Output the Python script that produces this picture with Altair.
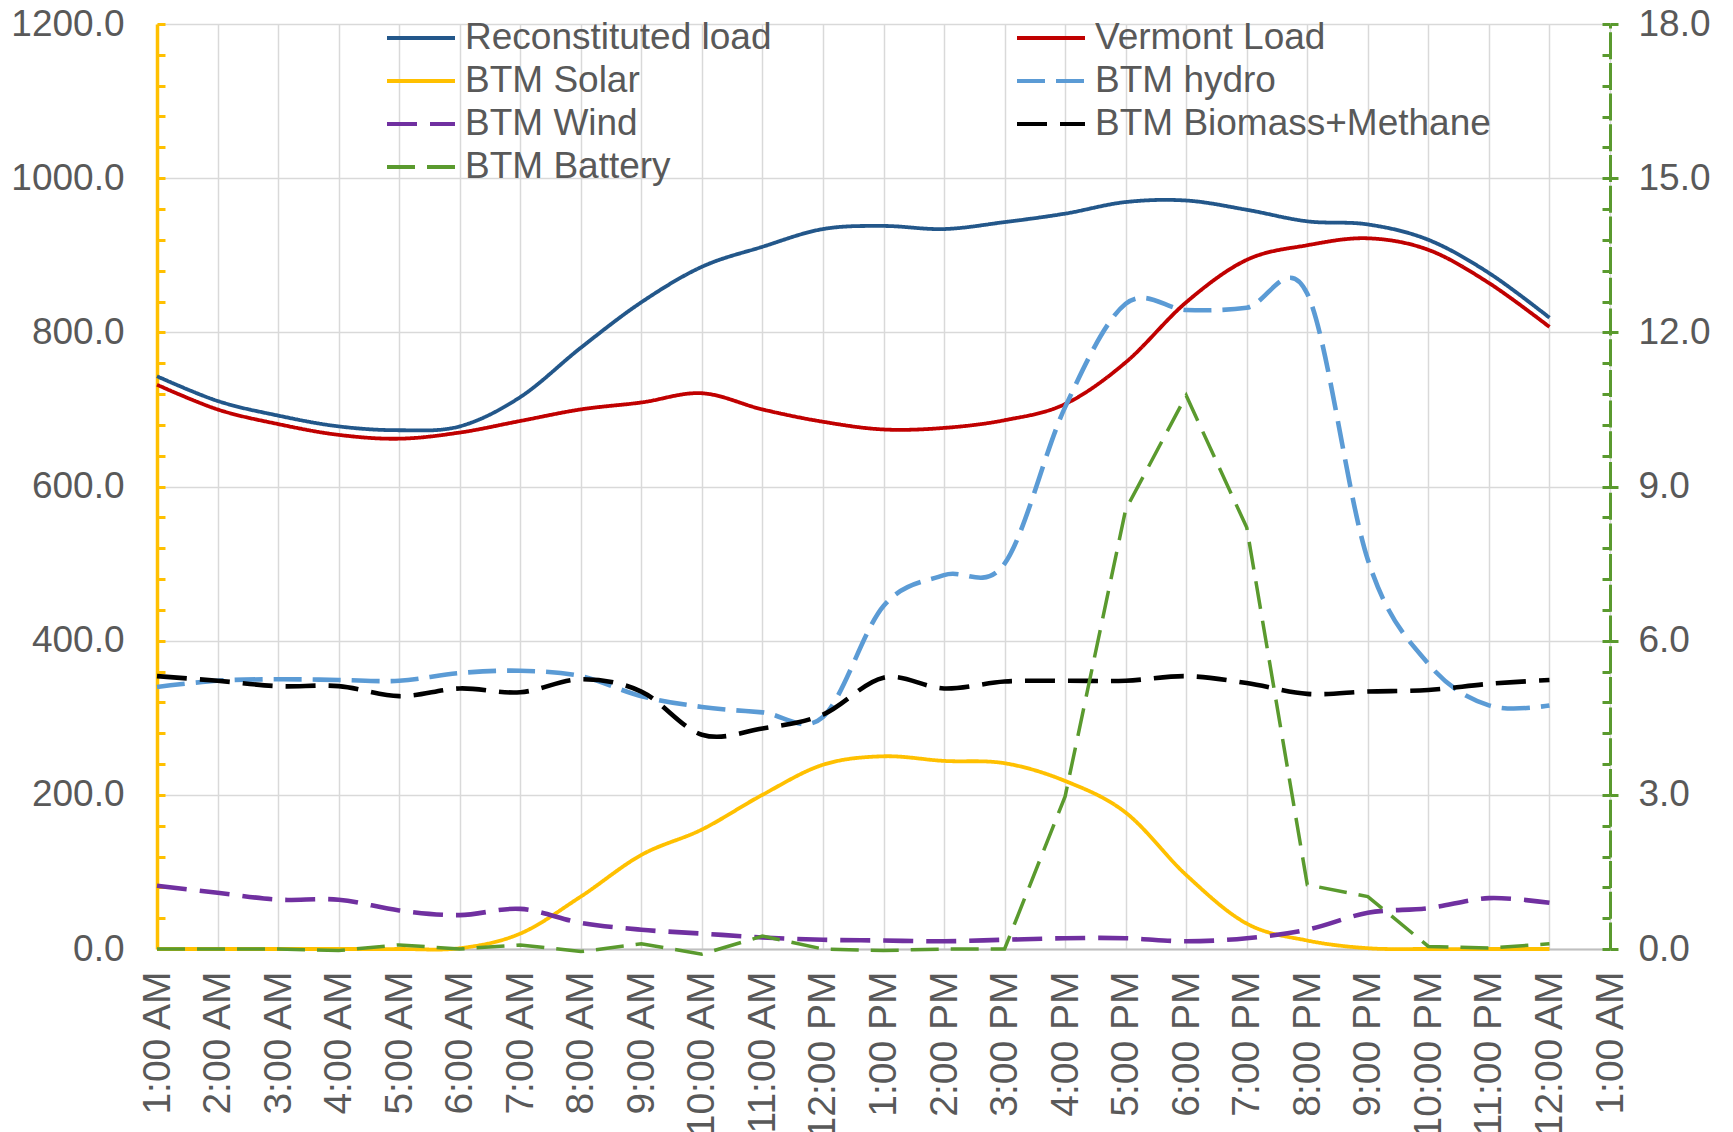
import json
import altair as alt
import pandas as pd

# ---------------- data ----------------
hour_labels = ["1:00 AM", "2:00 AM", "3:00 AM", "4:00 AM", "5:00 AM", "6:00 AM",
               "7:00 AM", "8:00 AM", "9:00 AM", "10:00 AM", "11:00 AM", "12:00 PM",
               "1:00 PM", "2:00 PM", "3:00 PM", "4:00 PM", "5:00 PM", "6:00 PM",
               "7:00 PM", "8:00 PM", "9:00 PM", "10:00 PM", "11:00 PM", "12:00 AM",
               "1:00 AM"]

series_names = ["Reconstituted load", "Vermont Load", "BTM Solar", "BTM hydro",
                "BTM Wind", "BTM Biomass+Methane", "BTM Battery"]

reconstituted = [743, 711, 692, 678, 673, 678, 716, 780, 839, 885, 911, 934,
                 938, 934, 943, 954, 969, 971, 959, 944, 940, 920, 877, 819]
vermont = [732, 700, 681, 667, 662, 670, 685, 700, 709, 721, 700, 684,
           674, 676, 686, 707, 761, 839, 894, 913, 922, 907, 864, 807]
solar = [0, 0, 0, 0, 0, 1, 20, 68, 122, 155, 200, 239,
         250, 244, 241, 218, 177, 96, 33, 11, 1, 0, 0, 0]
hydro = [340, 348, 350, 349, 348, 358, 361, 354, 328, 314, 307, 301,
         445, 485, 500, 703, 837, 829, 832, 850, 505, 370, 316, 316]
wind = [82, 73, 64, 64, 50, 44, 52, 34, 25, 20, 15, 12,
        11, 10, 12, 14, 14, 10, 14, 25, 47, 53, 66, 60]
biomass = [354, 348, 341, 341, 328, 338, 333, 350, 334, 278, 286, 304,
           352, 338, 347, 348, 348, 354, 345, 331, 334, 336, 344, 349]
battery = [0, 0, 0, -0.03, 0.08, 0, 0.08, -0.05, 0.1, -0.1, 0.25, 0,
           -0.03, 0, 0, 2.97, 8.55, 10.77, 8.2, 1.25, 1.02, 0.05, 0.02, 0.1]

left_ticks = [0, 200, 400, 600, 800, 1000, 1200]
right_ticks = [0, 3, 6, 9, 12, 15, 18]

# ---------------- styling ----------------
colors = ["#23578A", "#C00000", "#FFC000", "#5B9BD5", "#7030A0", "#000000", "#5A9A2E"]
dashes = [[1, 0], [1, 0], [1, 0], [28, 11], [30, 13], [30, 13], [28, 12]]
FONT = "Liberation Sans"
TXT = "#595959"
GRID = "#D9D9D9"
YELLOW = "#FFC000"
GREEN = "#5A9A2E"
W, H = 1453, 925
FS = 37

solid_rows, dashed_rows = [], []
for name, vals in zip(series_names[:6], [reconstituted, vermont, solar, hydro, wind, biomass]):
    target = solid_rows if name in series_names[:3] else dashed_rows
    for i, v in enumerate(vals):
        target.append({"hour": i, "series": name, "value": v})
solid_df = pd.DataFrame(solid_rows)
dashed_df = pd.DataFrame(dashed_rows)
batt_df = pd.DataFrame({"hour": list(range(len(battery))),
                        "series": ["BTM Battery"] * len(battery),
                        "value": battery})

left_minor = [round(i * 40, 3) for i in range(31)]
right_minor = [round(i * 0.6, 3) for i in range(31)]

x_enc = alt.X(
    "hour:Q",
    scale=alt.Scale(domain=[0, 24], nice=False, zero=False),
    axis=alt.Axis(
        values=list(range(25)),
        labelExpr=f"{json.dumps(hour_labels)}[datum.value]",
        labelAngle=270, labelFontSize=39, labelColor=TXT, labelFont=FONT,
        labelPadding=22, labelOverlap=False, labelFlush=False,
        grid=True, gridColor=GRID, gridWidth=1.5,
        ticks=False, domainColor="#BFBFBF", domainWidth=2, title=None,
    ),
)

# wide stroke symbol: path spans twice the nominal symbol size
legend = alt.Legend(
    title=None, orient="none", legendX=245, legendY=-5, columns=2,
    direction="horizontal",
    columnPadding=237, rowPadding=6, symbolType="M-2,0H2", symbolSize=1156,
    symbolStrokeWidth=3.8, labelFontSize=FS, labelColor=TXT, labelFont=FONT,
    labelLimit=600, labelOffset=25, padding=0,
)
color_scale = alt.Scale(domain=series_names, range=colors)
dash_scale = alt.Scale(domain=series_names, range=dashes)

color_enc = alt.Color("series:N", scale=color_scale, legend=legend)
dash_enc = alt.StrokeDash("series:N", scale=dash_scale, legend=legend)

left_scale = alt.Scale(domain=[0, 1200], nice=False)
right_scale = alt.Scale(domain=[0, 18], nice=False)

solid = alt.Chart(solid_df).mark_line(interpolate="cardinal", strokeWidth=3.8).encode(
    x=x_enc,
    y=alt.Y("value:Q", scale=left_scale,
            axis=alt.Axis(orient="left", values=left_ticks, format=".1f",
                          labelFontSize=FS, labelColor=TXT, labelFont=FONT,
                          labelPadding=33, ticks=False, grid=True, gridColor=GRID,
                          gridWidth=1.5, domainColor=YELLOW, domainWidth=3.5,
                          title=None)),
    color=color_enc,
    strokeDash=dash_enc,
)

dashed = alt.Chart(dashed_df).mark_line(interpolate="cardinal", strokeWidth=4.6).encode(
    x=x_enc,
    y=alt.Y("value:Q", scale=left_scale, axis=None),
    color=color_enc,
    strokeDash=dash_enc,
)

batt = alt.Chart(batt_df).mark_line(strokeWidth=3.5).encode(
    x=x_enc,
    y=alt.Y("value:Q", scale=right_scale,
            axis=alt.Axis(orient="right", values=right_ticks, format=".1f",
                          labelFontSize=FS, labelColor=TXT, labelFont=FONT,
                          labelPadding=20, ticks=True, tickSize=8, tickWidth=3,
                          tickColor=GREEN, grid=False, domainColor=GREEN,
                          domainWidth=3, domainDash=[27, 3.7], title=None)),
    color=color_enc,
    strokeDash=dash_enc,
)

left_inner = alt.Chart(solid_df).mark_line(opacity=0).encode(
    x=x_enc,
    y=alt.Y("value:Q", scale=left_scale,
            axis=alt.Axis(orient="right", offset=-W, values=left_minor,
                          labels=False, domain=False, grid=False, ticks=True,
                          tickSize=8, tickWidth=3, tickColor=YELLOW, title=None)),
    detail="series:N",
)

right_inner = alt.Chart(batt_df).mark_line(opacity=0).encode(
    x=x_enc,
    y=alt.Y("value:Q", scale=right_scale,
            axis=alt.Axis(orient="left", offset=-W, values=right_minor,
                          labels=False, domain=False, grid=False, ticks=True,
                          tickSize=8, tickWidth=3, tickColor=GREEN, title=None)),
)

chart = alt.layer(solid, dashed, left_inner, batt, right_inner).resolve_scale(
    y="independent", color="shared", strokeDash="shared"
).properties(
    width=W, height=H,
    autosize=alt.AutoSizeParams(type="none"),
    padding={"left": 149, "top": 16, "right": 112, "bottom": 200},
).configure_view(stroke=None).configure(
    font=FONT, background="white"
)

chart.save("out.html", embed_options={"renderer": "svg", "actions": False})
